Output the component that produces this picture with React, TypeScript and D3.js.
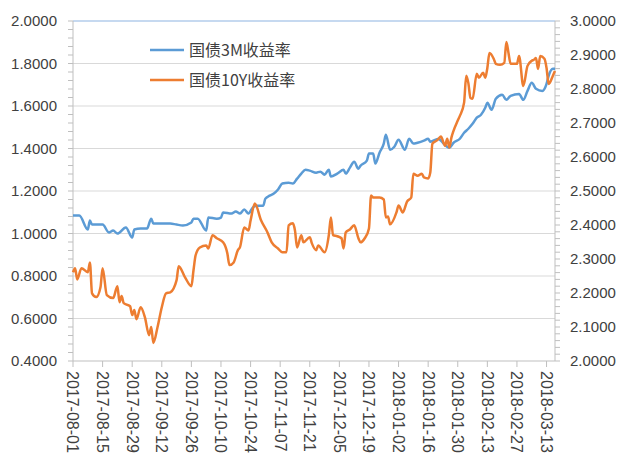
import * as d3 from 'd3';
import React from 'react';

// 国债3M收益率 (left axis)
const dates3M = [
  '2017-08-01', '2017-08-04', '2017-08-08', '2017-08-09', '2017-08-10', '2017-08-15', '2017-08-18', '2017-08-20',
  '2017-08-22', '2017-08-26', '2017-08-29', '2017-08-30', '2017-09-02', '2017-09-05', '2017-09-07', '2017-09-08',
  '2017-09-11', '2017-09-16', '2017-09-19', '2017-09-22', '2017-09-26', '2017-09-27', '2017-09-29', '2017-10-03',
  '2017-10-04', '2017-10-08', '2017-10-10', '2017-10-11', '2017-10-15', '2017-10-17', '2017-10-19', '2017-10-21',
  '2017-10-23', '2017-10-25', '2017-10-27', '2017-10-30', '2017-10-31', '2017-11-02', '2017-11-04', '2017-11-06',
  '2017-11-08', '2017-11-11', '2017-11-13', '2017-11-15', '2017-11-17', '2017-11-19', '2017-11-21', '2017-11-24',
  '2017-11-26', '2017-11-28', '2017-11-30', '2017-12-01', '2017-12-04', '2017-12-07', '2017-12-08', '2017-12-10',
  '2017-12-12', '2017-12-14', '2017-12-15', '2017-12-18', '2017-12-19', '2017-12-21', '2017-12-22', '2017-12-24',
  '2017-12-26', '2017-12-27', '2017-12-29', '2017-12-31', '2018-01-02', '2018-01-05', '2018-01-07', '2018-01-09',
  '2018-01-11', '2018-01-14', '2018-01-16', '2018-01-17', '2018-01-21', '2018-01-22', '2018-01-26', '2018-01-28',
  '2018-01-31', '2018-02-02', '2018-02-04', '2018-02-06', '2018-02-08', '2018-02-10', '2018-02-12', '2018-02-13',
  '2018-02-15', '2018-02-17', '2018-02-20', '2018-02-22', '2018-02-24', '2018-02-28', '2018-03-02', '2018-03-04',
  '2018-03-06', '2018-03-08', '2018-03-11', '2018-03-13', '2018-03-14', '2018-03-16', '2018-03-17',
];
const rate3M = [
  1.085, 1.085, 1.019, 1.061, 1.042, 1.042, 1.005, 1.014,
  1.000, 1.028, 0.981, 1.019, 1.023, 1.023, 1.070, 1.047,
  1.047, 1.047, 1.042, 1.038, 1.052, 1.070, 1.070, 1.014,
  1.075, 1.070, 1.075, 1.099, 1.094, 1.103, 1.094, 1.113,
  1.094, 1.122, 1.131, 1.131, 1.164, 1.178, 1.188, 1.207,
  1.235, 1.239, 1.235, 1.258, 1.282, 1.300, 1.296, 1.286,
  1.291, 1.277, 1.300, 1.268, 1.282, 1.300, 1.282, 1.310,
  1.338, 1.305, 1.319, 1.343, 1.376, 1.376, 1.329, 1.380,
  1.423, 1.465, 1.394, 1.408, 1.441, 1.394, 1.446, 1.423,
  1.427, 1.437, 1.446, 1.432, 1.446, 1.437, 1.404, 1.427,
  1.446, 1.474, 1.493, 1.516, 1.545, 1.559, 1.592, 1.615,
  1.582, 1.634, 1.653, 1.629, 1.648, 1.657, 1.629, 1.671,
  1.709, 1.681, 1.671, 1.704, 1.742, 1.775, 1.775,
];

// 国债10Y收益率 (right axis)
const dates10Y = [
  '2017-08-01', '2017-08-02', '2017-08-03', '2017-08-05', '2017-08-08', '2017-08-09', '2017-08-10', '2017-08-12',
  '2017-08-14', '2017-08-15', '2017-08-17', '2017-08-20', '2017-08-22', '2017-08-23', '2017-08-24', '2017-08-25',
  '2017-08-28', '2017-08-29', '2017-08-30', '2017-08-31', '2017-09-02', '2017-09-04', '2017-09-06', '2017-09-07',
  '2017-09-08', '2017-09-10', '2017-09-12', '2017-09-14', '2017-09-16', '2017-09-19', '2017-09-20', '2017-09-23',
  '2017-09-26', '2017-09-27', '2017-09-28', '2017-09-30', '2017-10-03', '2017-10-04', '2017-10-06', '2017-10-08',
  '2017-10-11', '2017-10-13', '2017-10-14', '2017-10-16', '2017-10-18', '2017-10-19', '2017-10-21', '2017-10-23',
  '2017-10-24', '2017-10-26', '2017-10-29', '2017-11-01', '2017-11-03', '2017-11-06', '2017-11-08', '2017-11-10',
  '2017-11-11', '2017-11-13', '2017-11-14', '2017-11-15', '2017-11-17', '2017-11-18', '2017-11-21', '2017-11-22',
  '2017-11-24', '2017-11-25', '2017-11-28', '2017-11-30', '2017-12-01', '2017-12-02', '2017-12-04', '2017-12-06',
  '2017-12-07', '2017-12-08', '2017-12-10', '2017-12-12', '2017-12-14', '2017-12-15', '2017-12-17', '2017-12-19',
  '2017-12-20', '2017-12-21', '2017-12-24', '2017-12-26', '2017-12-27', '2017-12-28', '2017-12-29', '2018-01-01',
  '2018-01-02', '2018-01-04', '2018-01-06', '2018-01-08', '2018-01-09', '2018-01-11', '2018-01-13', '2018-01-14',
  '2018-01-16', '2018-01-17', '2018-01-18', '2018-01-20', '2018-01-21', '2018-01-22', '2018-01-24', '2018-01-25',
  '2018-01-26', '2018-01-27', '2018-01-28', '2018-01-30', '2018-01-31', '2018-02-02', '2018-02-03', '2018-02-04',
  '2018-02-05', '2018-02-06', '2018-02-08', '2018-02-09', '2018-02-11', '2018-02-12', '2018-02-13', '2018-02-14',
  '2018-02-16', '2018-02-17', '2018-02-19', '2018-02-21', '2018-02-22', '2018-02-23', '2018-02-24', '2018-02-27',
  '2018-02-28', '2018-03-02', '2018-03-04', '2018-03-06', '2018-03-07', '2018-03-08', '2018-03-09', '2018-03-10',
  '2018-03-12', '2018-03-13', '2018-03-14', '2018-03-16', '2018-03-17',
];
const rate10Y = [
  2.261, 2.273, 2.240, 2.273, 2.261, 2.290, 2.199, 2.188,
  2.217, 2.273, 2.194, 2.185, 2.220, 2.173, 2.191, 2.170,
  2.161, 2.135, 2.150, 2.123, 2.158, 2.129, 2.076, 2.100,
  2.053, 2.100, 2.158, 2.199, 2.202, 2.238, 2.279, 2.246,
  2.220, 2.267, 2.311, 2.334, 2.340, 2.331, 2.370, 2.361,
  2.349, 2.317, 2.282, 2.290, 2.326, 2.335, 2.393, 2.384,
  2.413, 2.463, 2.413, 2.378, 2.349, 2.331, 2.320, 2.320,
  2.399, 2.405, 2.384, 2.334, 2.370, 2.349, 2.364, 2.346,
  2.326, 2.340, 2.320, 2.370, 2.422, 2.370, 2.367, 2.361,
  2.331, 2.378, 2.387, 2.399, 2.361, 2.349, 2.361, 2.390,
  2.487, 2.481, 2.481, 2.475, 2.422, 2.425, 2.402, 2.437,
  2.457, 2.437, 2.469, 2.481, 2.551, 2.545, 2.551, 2.540,
  2.537, 2.554, 2.639, 2.648, 2.654, 2.660, 2.633, 2.654,
  2.628, 2.657, 2.677, 2.707, 2.721, 2.760, 2.839, 2.818,
  2.774, 2.771, 2.845, 2.833, 2.848, 2.833, 2.862, 2.906,
  2.889, 2.874, 2.871, 2.877, 2.938, 2.906, 2.874, 2.874,
  2.897, 2.809, 2.868, 2.883, 2.886, 2.891, 2.859, 2.897,
  2.889, 2.862, 2.815, 2.839, 2.853,
];

const xTickLabels = [
  '2017-08-01', '2017-08-15', '2017-08-29', '2017-09-12', '2017-09-26', '2017-10-10', '2017-10-24', '2017-11-07',
  '2017-11-21', '2017-12-05', '2017-12-19', '2018-01-02', '2018-01-16', '2018-01-30', '2018-02-13', '2018-02-27',
  '2018-03-13',
];
const leftTicks = [0.4, 0.6, 0.8, 1.0, 1.2, 1.4, 1.6, 1.8, 2.0];
const rightTicks = [2.0, 2.1, 2.2, 2.3, 2.4, 2.5, 2.6, 2.7, 2.8, 2.9, 3.0];
const seriesNames = ['国债3M收益率', '国债10Y收益率'];
const colors = ['#5b9bd5', '#ed7d31'];

const W = 620, H = 457;
const left = 73, right = 555, top = 21, bottom = 361;
const parse = d3.timeParse('%Y-%m-%d');
const font = '"Liberation Sans", Arial, sans-serif';
const textColor = '#404040';
const axisColor = '#bfbfbf';

export default function App() {
  const x = d3.scaleTime()
    .domain([parse('2017-08-01')!, parse('2018-03-17')!])
    .range([left, right]);
  const yL = d3.scaleLinear().domain([0.4, 2.0]).range([bottom, top]);
  const yR = d3.scaleLinear().domain([2.0, 3.0]).range([bottom, top]);

  const line3M = d3.line<number>()
    .x((_, i) => x(parse(dates3M[i])!))
    .y(d => yL(d))
    .curve(d3.curveMonotoneX);
  const line10Y = d3.line<number>()
    .x((_, i) => x(parse(dates10Y[i])!))
    .y(d => yR(d))
    .curve(d3.curveMonotoneX);

  const leftMinor = d3.range(0.4, 2.0001, 0.04);
  const rightMinor = d3.range(2.0, 3.0001, 0.02);

  return (
    <svg width={W} height={H} style={{ position: 'absolute', left: 0, top: 0, background: '#fff' }}
      fontFamily={font}>
      {/* gridlines */}
      {leftTicks.slice(1, -1).map(v => (
        <line key={'g' + v} x1={left} x2={right} y1={yL(v)} y2={yL(v)} stroke="#d9d9d9" strokeWidth={1} />
      ))}
      <line x1={left} x2={right} y1={top} y2={top} stroke="#8db4e2" strokeWidth={1.2} />

      {/* axes */}
      <line x1={left} x2={left} y1={top} y2={bottom} stroke={axisColor} />
      <line x1={right} x2={right} y1={top} y2={bottom} stroke={axisColor} />
      <line x1={left} x2={right} y1={bottom} y2={bottom} stroke={axisColor} />

      {leftMinor.map((v, i) => (
        <line key={'lm' + i} x1={left - 5} x2={left} y1={yL(v)} y2={yL(v)} stroke={axisColor} />
      ))}
      {rightMinor.map((v, i) => (
        <line key={'rm' + i} x1={right} x2={right + 5} y1={yR(v)} y2={yR(v)} stroke={axisColor} />
      ))}

      {leftTicks.map(v => (
        <text key={'lt' + v} x={57} y={yL(v)} dy="0.35em" textAnchor="end" fontSize={15} fill={textColor}>
          {v.toFixed(4)}
        </text>
      ))}
      {rightTicks.map(v => (
        <text key={'rt' + v} x={570} y={yR(v)} dy="0.35em" textAnchor="start" fontSize={15} fill={textColor}>
          {v.toFixed(4)}
        </text>
      ))}

      {xTickLabels.map(s => {
        const px = x(parse(s)!);
        return (
          <g key={s}>
            <line x1={px} x2={px} y1={bottom} y2={bottom + 6} stroke={axisColor} />
            <text transform={`translate(${px},${bottom + 10}) rotate(90)`} dy="0.35em" textAnchor="start"
              fontSize={16} fill={textColor}>{s}</text>
          </g>
        );
      })}

      {/* series */}
      <path d={line3M(rate3M)!} fill="none" stroke={colors[0]} strokeWidth={2.5} strokeLinejoin="round" />
      <path d={line10Y(rate10Y)!} fill="none" stroke={colors[1]} strokeWidth={2.5} strokeLinejoin="round" />

      {/* legend */}
      {seriesNames.map((name, i) => (
        <g key={name} transform={`translate(150,${50 + i * 30})`}>
          <line x1={0} x2={34} y1={0} y2={0} stroke={colors[i]} strokeWidth={2.5} />
          <text x={39} y={0} dy="0.35em" fontSize={16} fill={textColor}
            fontFamily='"Noto Sans CJK SC", "Liberation Sans", sans-serif'>{name}</text>
        </g>
      ))}
    </svg>
  );
}
